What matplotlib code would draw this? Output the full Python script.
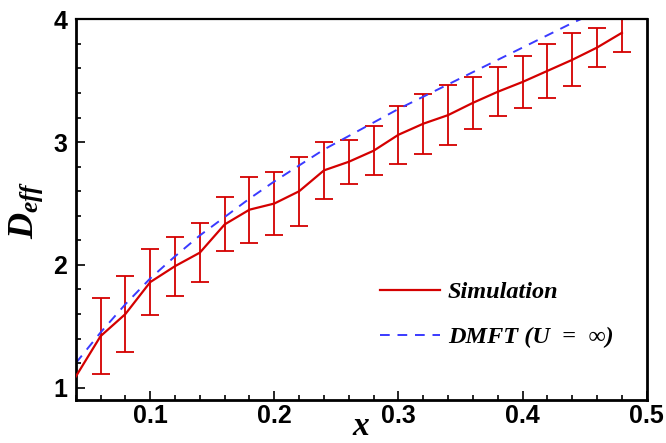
import matplotlib
matplotlib.use("Agg")
import matplotlib.pyplot as plt
from matplotlib.ticker import MultipleLocator, FixedLocator

# simulation D_eff vs x with error bars (no bar at the first point)
x_sim = [0.04, 0.06, 0.08, 0.10, 0.12, 0.14, 0.16, 0.18, 0.20, 0.22, 0.24, 0.26,
         0.28, 0.30, 0.32, 0.34, 0.36, 0.38, 0.40, 0.42, 0.44, 0.46, 0.48]
d_sim = [1.09, 1.42, 1.60, 1.86, 1.99, 2.10, 2.33, 2.45, 2.50, 2.60, 2.77, 2.84,
         2.93, 3.06, 3.15, 3.22, 3.32, 3.41, 3.49, 3.58, 3.67, 3.77, 3.89]
err_sim = [0.0, 0.31, 0.31, 0.27, 0.24, 0.24, 0.22, 0.27, 0.26, 0.28, 0.235, 0.18,
           0.20, 0.235, 0.245, 0.245, 0.21, 0.20, 0.215, 0.22, 0.215, 0.16, 0.16]

# DMFT (U = inf) curve
x_dmft = [0.04, 0.06, 0.08, 0.10, 0.12, 0.14, 0.16, 0.18, 0.20, 0.22, 0.24,
          0.26, 0.28, 0.30, 0.32, 0.34, 0.36, 0.38, 0.40, 0.42, 0.44, 0.46]
d_dmft = [1.20, 1.45, 1.68, 1.89, 2.07, 2.24, 2.39, 2.54, 2.68, 2.81, 2.94,
          3.05, 3.16, 3.27, 3.37, 3.47, 3.57, 3.67, 3.77, 3.87, 3.97, 4.06]

x_ticks = [0.1, 0.2, 0.3, 0.4, 0.5]
y_ticks = [1, 2, 3, 4]

plt.rcParams["mathtext.fontset"] = "custom"
plt.rcParams["mathtext.it"] = "Liberation Serif:italic:bold"
plt.rcParams["mathtext.rm"] = "Liberation Serif:bold"

RED = "#d40000"
BLUE = "#3a3aff"

fig = plt.figure(figsize=(6.66, 4.43), dpi=100)
ax = fig.add_axes([0.1137, 0.097, 0.8573, 0.8594])

ax.plot(x_sim, d_sim, color=RED, lw=1.6, label="Simulation", zorder=3)
ax.errorbar(x_sim[1:], d_sim[1:], yerr=err_sim[1:], fmt="none", ecolor=RED,
            elinewidth=1.3, capsize=6.5, capthick=1.3, zorder=2)
ax.plot(x_dmft, d_dmft, color=BLUE, lw=1.4, ls=(0, (5, 4)),
        label="DMFT (U  =  \u221e)", zorder=2)

ax.set_xlim(0.04, 0.5)
ax.set_ylim(0.9, 4.0)
ax.xaxis.set_major_locator(FixedLocator(x_ticks))
ax.yaxis.set_major_locator(FixedLocator(y_ticks))
ax.xaxis.set_minor_locator(MultipleLocator(0.02))
ax.yaxis.set_minor_locator(MultipleLocator(0.2))
ax.set_xticklabels([f"{t:.1f}" for t in x_ticks])
ax.set_yticklabels([str(t) for t in y_ticks])
ax.tick_params(which="both", direction="in", top=False, right=False, width=1.2)
ax.tick_params(which="major", length=6.5)
ax.tick_params(which="minor", length=3.5)
ax.tick_params(axis="x", pad=3)
ax.tick_params(axis="y", pad=6)
for lab in ax.get_xticklabels() + ax.get_yticklabels():
    lab.set_fontfamily("Liberation Sans")
    lab.set_fontweight("bold")
    lab.set_fontsize(18)

for side in ["left", "bottom", "right"]:
    ax.spines[side].set_linewidth(2.0)
ax.spines["top"].set_linewidth(1.6)

ax.set_xlabel(r"$x$", fontsize=24, labelpad=-14)
ax.set_ylabel(r"$D_{eff}$", fontsize=26, labelpad=6)

leg = ax.legend(loc="lower right", bbox_to_anchor=(0.98, 0.078), frameon=False,
                handlelength=2.5, handletextpad=0.3, labelspacing=0.95,
                prop={"family": ["Liberation Serif", "DejaVu Serif"],
                      "style": "italic", "weight": "bold", "size": 17.5})

fig.savefig("out.png", dpi=100)
